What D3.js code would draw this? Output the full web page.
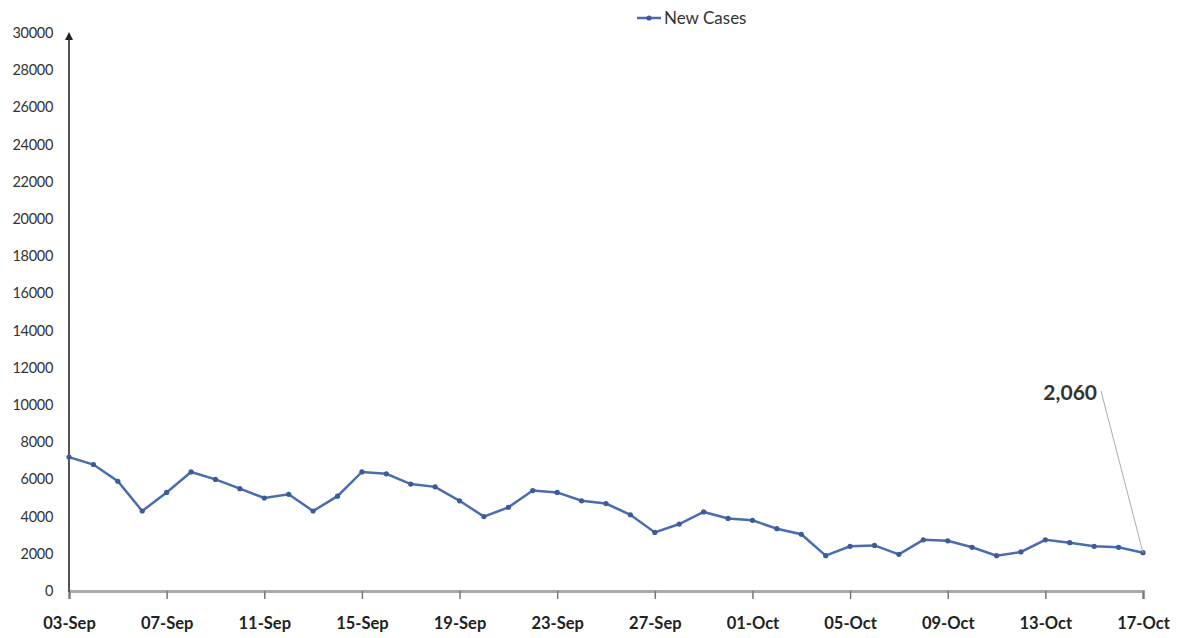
<!DOCTYPE html>
<html>
<head>
<meta charset="utf-8">
<script src="https://cdn.jsdelivr.net/npm/d3@7"></script>
<style>
  body { margin: 0; background: #fff; }
  svg { display: block; font-family: Lato, "Open Sans", sans-serif; }
</style>
</head>
<body>
<svg id="chart" width="1179" height="638"></svg>
<script>
// daily new cases, 03-Sep .. 17-Oct
var startDate = "2020-09-03";
var newCases = [7200, 6800, 5900, 4300, 5300, 6400, 6000, 5500, 5000, 5200,
                4300, 5100, 6400, 6300, 5750, 5600, 4850, 4000, 4500, 5400,
                5300, 4850, 4700, 4100, 3150, 3600, 4250, 3900, 3800, 3350,
                3050, 1900, 2400, 2450, 1970, 2750, 2700, 2350, 1900, 2100,
                2750, 2600, 2400, 2350, 2060];
var yTicks = [0, 2000, 4000, 6000, 8000, 10000, 12000, 14000, 16000, 18000,
              20000, 22000, 24000, 26000, 28000, 30000];
var seriesName = "New Cases";
var lastLabel = "2,060";

var parse = d3.timeParse("%Y-%m-%d");
var t0 = parse(startDate);
var data = newCases.map(function(v, i) {
  return {date: d3.timeDay.offset(t0, i), value: v};
});

var svg = d3.select("#chart");
var x = d3.scaleTime()
  .domain([data[0].date, data[data.length - 1].date])
  .range([69, 1143]);
var y = d3.scaleLinear().domain([0, 30000]).range([591, 33]);

var lineColor = "#4a6db0";

// y tick labels (no ticks, just text)
svg.append("g")
  .selectAll("text")
  .data(yTicks)
  .enter()
  .append("text")
  .attr("x", 53)
  .attr("y", d => y(d) + 5)
  .attr("text-anchor", "end")
  .style("font-size", "14.5px")
  .style("letter-spacing", "-0.3px")
  .style("fill", "#333")
  .text(d => d);

// x axis
var xAxis = d3.axisBottom(x)
  .tickValues(d3.range(0, data.length, 4).map(i => data[i].date))
  .tickFormat(d3.timeFormat("%d-%b"))
  .tickSize(8);
var gx = svg.append("g").attr("transform", "translate(0,591)").call(xAxis);
gx.select(".domain").attr("stroke", "#aaa").attr("stroke-width", 3);
gx.selectAll(".tick line").attr("stroke", "#777").attr("stroke-width", 1.5);
gx.selectAll(".tick text")
  .attr("dy", "1.65em")
  .style("font-size", "16.5px")
  .style("font-weight", "bold")
  .style("fill", "#222")
  .style("font-family", "Lato, sans-serif");

// y axis line with arrow
svg.append("defs").append("marker")
  .attr("id", "arrow")
  .attr("viewBox", "0 0 10 10")
  .attr("refX", 5).attr("refY", 5)
  .attr("markerWidth", 4).attr("markerHeight", 4)
  .attr("orient", "auto")
  .append("path")
  .attr("d", "M0,0 L10,5 L0,10 z")
  .attr("fill", "#222");
svg.append("line")
  .attr("x1", x(data[0].date)).attr("x2", x(data[0].date))
  .attr("y1", 592).attr("y2", 36)
  .attr("stroke", "#555")
  .attr("stroke-width", 2)
  .attr("marker-end", "url(#arrow)");

// series line
var line = d3.line().x(d => x(d.date)).y(d => y(d.value));
svg.append("path")
  .datum(data)
  .attr("fill", "none")
  .attr("stroke", lineColor)
  .attr("stroke-width", 2.5)
  .attr("d", line);

svg.append("g")
  .selectAll("circle")
  .data(data)
  .enter()
  .append("circle")
  .attr("cx", d => x(d.date))
  .attr("cy", d => y(d.value))
  .attr("r", 2.6)
  .attr("fill", "#3d5c96");

// callout for last value
var last = data[data.length - 1];
svg.append("line")
  .attr("x1", 1101).attr("y1", 391)
  .attr("x2", x(last.date)).attr("y2", y(last.value))
  .attr("stroke", "#aaa")
  .attr("stroke-width", 1);
svg.append("text")
  .attr("x", 1097)
  .attr("y", 400)
  .attr("text-anchor", "end")
  .style("font-size", "21px")
  .style("font-weight", "bold")
  .style("fill", "#333")
  .text(lastLabel);

// legend
var lg = svg.append("g").attr("transform", "translate(637,18)");
lg.append("line")
  .attr("x1", 0).attr("x2", 24)
  .attr("stroke", lineColor).attr("stroke-width", 2.5);
lg.append("circle").attr("cx", 12).attr("r", 2.6).attr("fill", "#3d5c96");
lg.append("text")
  .attr("x", 27).attr("y", 6)
  .style("font-size", "17px")
  .style("fill", "#333")
  .text(seriesName);
</script>
</body>
</html>
